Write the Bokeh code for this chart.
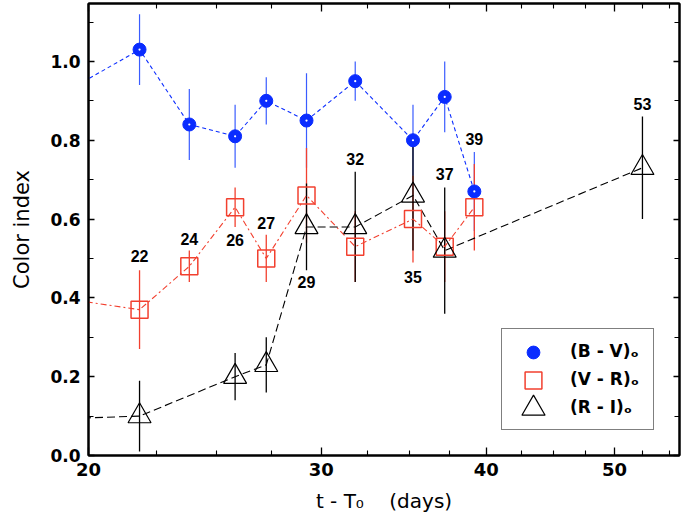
import numpy as np
from bokeh.plotting import figure
from bokeh.models import (Range1d, FixedTicker, PrintfTickFormatter, LinearAxis, LogAxis,
                          Legend, LegendItem)
from bokeh.core.properties import value
from bokeh.embed import file_html
from bokeh.resources import INLINE

# ---------------- data ----------------
bv_t = [19.0, 21.86, 23.84, 25.82, 27.26, 29.24, 31.83, 35.2, 37.2, 39.17]
bv = [0.913, 1.03, 0.84, 0.81, 0.90, 0.85, 0.95, 0.80, 0.91, 0.67]
bv_err = [0.0, 0.09, 0.09, 0.08, 0.06, 0.12, 0.05, 0.09, 0.09, 0.10]

vr_t = [19.0, 21.86, 23.84, 25.82, 27.26, 29.24, 31.83, 35.2, 37.2, 39.17]
vr = [0.40, 0.37, 0.48, 0.63, 0.50, 0.66, 0.53, 0.60, 0.53, 0.63]
vr_err = [0.0, 0.10, 0.04, 0.05, 0.06, 0.12, 0.09, 0.11, 0.09, 0.11]

ri_t = [19.0, 21.86, 25.82, 27.26, 29.24, 31.83, 35.2, 37.2, 52.5]
ri = [0.093, 0.10, 0.20, 0.23, 0.58, 0.58, 0.66, 0.52, 0.73]
ri_err = [0.0, 0.09, 0.06, 0.07, 0.11, 0.14, 0.14, 0.16, 0.13]

epoch_labels = ["22", "24", "26", "27", "29", "32", "35", "37", "39", "53"]
epoch_t = [21.86, 23.84, 25.82, 27.26, 29.24, 31.83, 35.2, 37.2, 39.17, 52.5]
epoch_label_y = [0.506, 0.55, 0.546, 0.59, 0.44, 0.753, 0.454, 0.715, 0.804, 0.892]

x_ticks = [20, 30, 40, 50]
x_minor = [22.5, 25, 27.5, 32.5, 35, 37.5, 42.5, 45, 47.5, 52.5, 55]
y_ticks = [0.0, 0.2, 0.4, 0.6, 0.8, 1.0]
y_minor = [0.1, 0.3, 0.5, 0.7, 0.9, 1.1]

series_names = ["(B - V)\u2092", "(V - R)\u2092", "(R - I)\u2092"]

BLUE = "#0a2cff"
BLUE_ERR = "#3a5cff"
RED = "#f2402f"
BLACK = "#000000"

# ---------------- figure ----------------
p = figure(x_axis_type="log", x_range=Range1d(20, 56), y_range=Range1d(0, 1.147),
           frame_width=591, frame_height=452,
           min_border_left=88, min_border_right=4, min_border_top=3, min_border_bottom=45,
           output_backend="svg", toolbar_location=None)
p.grid.visible = False
p.outline_line_color = "black"
p.outline_line_width = 2
p.background_fill_color = "white"
p.border_fill_color = "white"


def style_axis(ax, major_in, minor_in, show_labels):
    ax.axis_line_color = "black"
    ax.axis_line_width = 2
    ax.major_tick_in = major_in
    ax.major_tick_out = 0
    ax.minor_tick_in = minor_in
    ax.minor_tick_out = 0
    ax.major_tick_line_width = 1.3
    ax.minor_tick_line_width = 1.1
    ax.major_tick_line_color = "black"
    ax.minor_tick_line_color = "black"
    if not show_labels:
        ax.major_label_text_font_size = "1px"
        ax.major_label_text_color = None
        ax.major_label_text_alpha = 0
        ax.major_label_standoff = 0


xb = p.xaxis[0]
xb.ticker = FixedTicker(ticks=x_ticks, minor_ticks=x_minor)
xb.formatter = PrintfTickFormatter(format="%d")
style_axis(xb, 8, 5, True)
xb.major_label_text_font = "DejaVu Sans"
xb.major_label_text_font_style = "bold"
xb.major_label_text_font_size = "18px"
xb.major_label_text_color = "black"
xb.major_label_standoff = 7
xb.axis_label = "t - T\u2080\u00a0\u00a0\u00a0\u00a0(days)"
xb.axis_label_text_font = "DejaVu Sans"
xb.axis_label_text_font_style = "normal"
xb.axis_label_text_font_size = "20px"
xb.axis_label_text_color = "black"
xb.axis_label_standoff = 10

yl = p.yaxis[0]
yl.ticker = FixedTicker(ticks=y_ticks, minor_ticks=y_minor)
yl.formatter = PrintfTickFormatter(format="%.1f")
style_axis(yl, 6, 5, True)
yl.major_label_text_font = "DejaVu Sans"
yl.major_label_text_font_style = "bold"
yl.major_label_text_font_size = "17px"
yl.major_label_text_color = "black"
yl.major_label_standoff = 8
yl.axis_label = "Color index"
yl.axis_label_text_font = "DejaVu Sans"
yl.axis_label_text_font_style = "normal"
yl.axis_label_text_font_size = "21px"
yl.axis_label_text_color = "black"
yl.axis_label_standoff = 13

xt = LogAxis(ticker=FixedTicker(ticks=x_ticks, minor_ticks=x_minor))
style_axis(xt, 8, 5, False)
p.add_layout(xt, "above")

yr = LinearAxis(ticker=FixedTicker(ticks=y_ticks, minor_ticks=y_minor))
style_axis(yr, 6, 5, False)
p.add_layout(yr, "right")

# ---------------- data marks ----------------
def arr(a):
    return np.asarray(a, dtype=float)


def on_chart(t):
    return arr(t) >= 20


series = [
    (bv_t, bv, bv_err, BLUE_ERR, 1.2),
    (vr_t, vr, vr_err, RED, 1.3),
    (ri_t, ri, ri_err, BLACK, 1.3),
]
# error bars
for t, y, e, c, w in series:
    m = on_chart(t)
    tt, yy, ee = arr(t)[m], arr(y)[m], arr(e)[m]
    p.segment(x0=tt, y0=yy - ee, x1=tt, y1=yy + ee, line_color=c, line_width=w)

# connecting lines
p.line(bv_t, bv, line_color=BLUE, line_width=1.1, line_dash="4 3")
p.line(vr_t, vr, line_color=RED, line_width=1.1, line_dash="6 3 2 3")
p.line(ri_t, ri, line_color=BLACK, line_width=1.1, line_dash="8 4")

# markers
mb, mv, mr = on_chart(bv_t), on_chart(vr_t), on_chart(ri_t)
r_bv = p.scatter(arr(bv_t)[mb], arr(bv)[mb], marker="circle", size=13,
                 fill_color=BLUE, line_color=BLUE, line_width=1)
p.scatter(arr(bv_t)[mb], arr(bv)[mb], marker="circle", size=2.2,
          fill_color="white", line_color=None)
r_vr = p.scatter(arr(vr_t)[mv], arr(vr)[mv], marker="square", size=17,
                 fill_color=None, line_color=RED, line_width=1.5)
r_ri = p.scatter(arr(ri_t)[mr], arr(ri)[mr], marker="triangle", size=23,
                 fill_color=None, line_color=BLACK, line_width=1.2)

# epoch labels
p.text(x=epoch_t, y=epoch_label_y, text=epoch_labels,
       text_font=value("Liberation Sans"), text_font_style="bold",
       text_font_size="16px", text_color="black",
       text_align="center", text_baseline="middle")

# ---------------- legend ----------------
# box + labels (glyphs drawn separately so that each keeps its own size)
dummies = [p.scatter(x=[], y=[], marker="circle", size=1, fill_alpha=0, line_alpha=0)
           for _ in series_names]
pad, gw, gh, sp, lw, ls, marg = 10, 40, 24, 4, 73, 18, 25
box = Legend(items=[LegendItem(label=n, renderers=[d]) for n, d in zip(series_names, dummies)],
             location="bottom_right", margin=marg, padding=pad, spacing=sp,
             glyph_width=gw, glyph_height=gh, label_height=gh, label_width=lw,
             label_standoff=ls, border_line_color="black", border_line_width=1.2,
             background_fill_color="white", background_fill_alpha=1.0,
             label_text_font="DejaVu Sans", label_text_font_style="bold",
             label_text_font_size="17px", label_text_color="black")
p.add_layout(box, "center")

box_w = 2 * pad + gw + ls + lw
box_h = 2 * pad + 3 * gh + 2 * sp
cx = 591 - marg - box_w + pad + gw / 2.0
for i, (r, s) in enumerate([(r_bv, 13), (r_vr, 17), (r_ri, 23)]):
    g = int(round(s / 0.4))
    cy = marg + box_h - pad - gh / 2.0 - i * (gh + sp)
    lg = Legend(items=[LegendItem(label=series_names[i], renderers=[r])],
                location=(cx - g / 2.0, cy - g / 2.0), margin=0, padding=0, spacing=0,
                glyph_width=g, glyph_height=g, label_height=0, label_width=0,
                label_standoff=0, label_text_font_size="1px", label_text_alpha=0,
                label_text_color=None,
                border_line_alpha=0, background_fill_alpha=0)
    p.add_layout(lg, "center")

open("out.html", "w").write(file_html(p, INLINE))
